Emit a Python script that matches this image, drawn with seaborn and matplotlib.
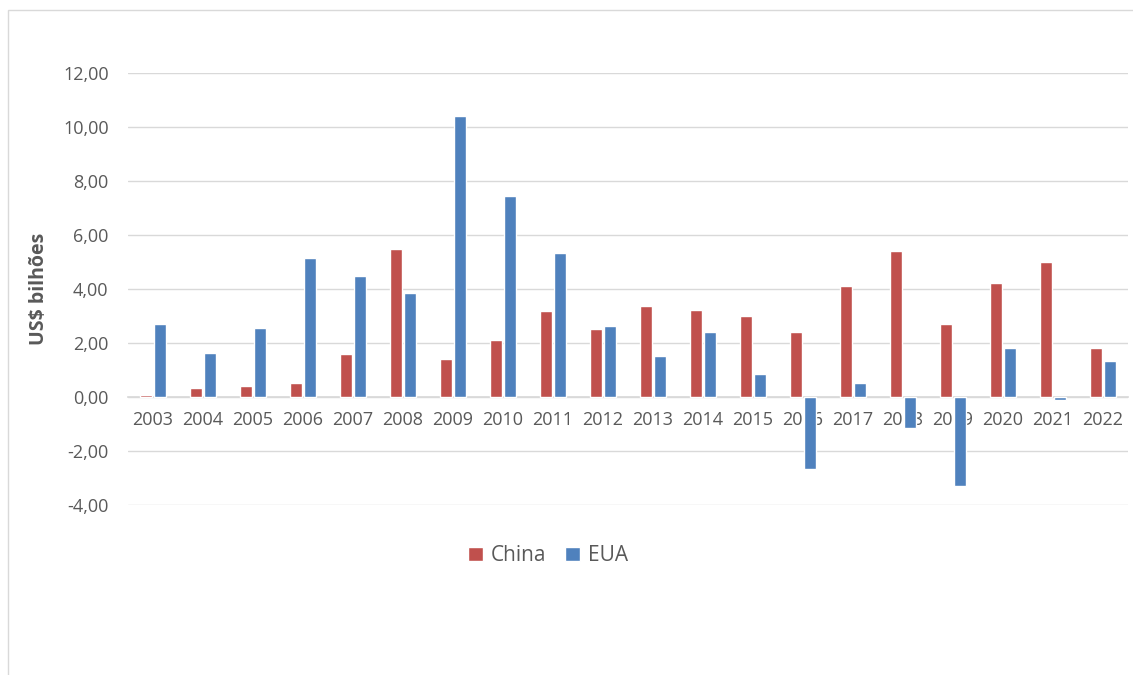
import matplotlib
matplotlib.use("Agg")
import matplotlib.pyplot as plt
import seaborn as sns
import pandas as pd
from matplotlib.patches import Rectangle
from matplotlib.ticker import FuncFormatter

years = [str(y) for y in range(2003, 2023)]
china = [0.08, 0.33, 0.40, 0.52, 1.59, 5.49, 1.42, 2.12, 3.18, 2.53,
         3.37, 3.22, 2.98, 2.39, 4.11, 5.40, 2.71, 4.21, 4.99, 1.81]
eua = [2.71, 1.61, 2.55, 5.14, 4.48, 3.83, 10.39, 7.43, 5.34, 2.61,
       1.52, 2.39, 0.84, -2.66, 0.52, -1.15, -3.29, 1.81, -0.10, 1.34]
series_names = ["China", "EUA"]
colors = ["#C0504D", "#4F81BD"]

df = pd.DataFrame({
    "Ano": years * 2,
    "Valor": china + eua,
    "Série": [series_names[0]] * len(years) + [series_names[1]] * len(years),
})

sns.set_theme(style="white")
plt.rcParams["font.family"] = ["Open Sans", "DejaVu Sans"]

fig = plt.figure(figsize=(11.33, 6.75), dpi=100)
ax = fig.add_axes([0.113, 0.252, 0.8826, 0.640])

sns.barplot(data=df, x="Ano", y="Valor", hue="Série", palette=colors,
            width=0.56, gap=0.18, ax=ax, saturation=1, legend=True)

ax.set_ylim(-4, 12)
ax.set_yticks(range(-4, 13, 2))
ax.yaxis.set_major_formatter(FuncFormatter(lambda v, p: f"{v:.2f}".replace(".", ",")))
ax.grid(axis="y", color="#D9D9D9", linewidth=1)
ax.set_axisbelow(True)
for s in ["top", "right", "left"]:
    ax.spines[s].set_visible(False)
ax.spines["bottom"].set_position(("data", 0))
ax.spines["bottom"].set_color("#D9D9D9")
ax.spines["bottom"].set_zorder(0.5)
ax.tick_params(axis="both", length=0, colors="#595959", labelsize=13)
ax.tick_params(axis="x", pad=10)
ax.tick_params(axis="y", pad=14)
ax.set_xlabel("")
ax.set_ylabel("US$ bilhões", fontsize=14, fontweight="bold", color="#595959", labelpad=10)

leg = ax.legend(loc="center", bbox_to_anchor=(0.42, -0.118), ncol=2, frameon=False,
                fontsize=15, handlelength=0.7, handleheight=0.7, handletextpad=0.4,
                columnspacing=0.9, labelcolor="#595959")

fig.patches.append(Rectangle((0.007, -0.1), 1.1, 1.085, transform=fig.transFigure,
                             fill=False, edgecolor="#D9D9D9", linewidth=1))

fig.savefig("out.png", dpi=100, facecolor="white")
